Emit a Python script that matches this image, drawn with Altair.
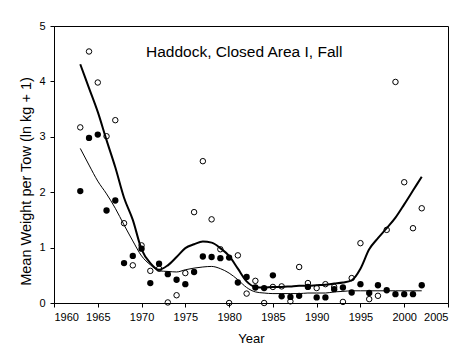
import altair as alt
import pandas as pd

years = list(range(1963, 2003))

open_vals = [3.17, 4.54, 3.98, 3.01, 3.30, 1.44, 0.68, 1.04, 0.58, 0.62,
             0.01, 0.14, 0.54, 1.64, 2.56, 1.51, 0.97, 0.00, 0.86, 0.17,
             0.40, 0.00, 0.29, 0.30, 0.03, 0.65, 0.36, 0.27, 0.34, 0.29,
             0.02, 0.45, 1.08, 0.07, 0.13, 1.32, 3.99, 2.18, 1.35, 1.71]

filled_vals = [2.02, 2.98, 3.04, 1.67, 1.85, 0.72, 0.85, 0.98, 0.36, 0.71,
               0.52, 0.42, 0.34, 0.56, 0.84, 0.83, 0.81, 0.82, 0.37, 0.47,
               0.28, 0.27, 0.50, 0.12, 0.11, 0.13, 0.29, 0.10, 0.10, 0.25,
               0.28, 0.19, 0.34, 0.18, 0.32, 0.23, 0.16, 0.16, 0.16, 0.32]

smooth_open = [4.31, 3.88, 3.45, 2.94, 2.45, 1.90, 1.50, 0.97, 0.72, 0.60,
               0.68, 0.83, 0.99, 1.06, 1.11, 1.09, 0.99, 0.85, 0.62, 0.39,
               0.29, 0.28, 0.29, 0.29, 0.30, 0.31, 0.31, 0.32, 0.33, 0.35,
               0.37, 0.41, 0.62, 0.97, 1.17, 1.35, 1.54, 1.78, 2.03, 2.28]

smooth_filled = [2.79, 2.49, 2.20, 1.97, 1.71, 1.41, 1.12, 0.85, 0.69, 0.58,
                 0.57, 0.56, 0.60, 0.63, 0.65, 0.66, 0.62, 0.54, 0.42, 0.28,
                 0.20, 0.18, 0.17, 0.17, 0.17, 0.17, 0.18, 0.18, 0.18, 0.20,
                 0.21, 0.22, 0.22, 0.22, 0.22, 0.22, 0.22, 0.22, 0.22, 0.22]

x_ticks = [1960, 1965, 1970, 1975, 1980, 1985, 1990, 1995, 2000, 2005]
y_ticks = [0, 1, 2, 3, 4, 5]
title_text = "Haddock, Closed Area I, Fall"

df = pd.DataFrame({
    "year": years,
    "open": open_vals,
    "filled": filled_vals,
    "smooth_open": smooth_open,
    "smooth_filled": smooth_filled,
})

FONT = "Liberation Sans"

xenc = alt.X("year:Q",
             scale=alt.Scale(domain=[1960, 2005], nice=False, zero=False),
             axis=alt.Axis(values=x_ticks, format="d", title="Year",
                           titleY=35, titleBaseline="middle",
                           labelPadding=4, titleFontSize=13))

def yenc(field):
    return alt.Y(f"{field}:Q",
                 scale=alt.Scale(domain=[0, 5], nice=False),
                 axis=alt.Axis(values=y_ticks, title="Mean Weight per Tow (ln kg + 1)",
                               titleX=-28, titleY=155, titleBaseline="middle",
                               titleAlign="center", titleAngle=270,
                               labelPadding=5, titleFontSize=14.5))

base = alt.Chart(df)

thick = base.mark_line(color="black", strokeWidth=2, interpolate="monotone").encode(
    x=xenc, y=yenc("smooth_open"))
thin = base.mark_line(color="black", strokeWidth=1, interpolate="monotone").encode(
    x=xenc, y=yenc("smooth_filled"))
opens = base.mark_point(shape="circle", filled=False, color="black", strokeWidth=1,
                        size=30, opacity=1).encode(x=xenc, y=yenc("open"))
fills = base.mark_circle(color="black", size=40, opacity=1).encode(x=xenc, y=yenc("filled"))

title = alt.Chart(pd.DataFrame({"t": [title_text]})).mark_text(
    font=FONT, fontSize=15.5, align="left", baseline="alphabetic", color="black"
).encode(text="t:N", x=alt.value(92), y=alt.value(31))

chart = alt.layer(thin, thick, opens, fills, title).properties(
    width=394, height=277,
    autosize=alt.AutoSizeParams(type="none"),
    padding={"left": 54, "top": 26, "right": 27, "bottom": 53},
).configure_view(
    stroke="black", strokeWidth=1
).configure_axis(
    grid=False, domainColor="black", tickColor="black", labelColor="black",
    titleColor="black", labelFont=FONT, titleFont=FONT, labelFontSize=11,
    titleFontWeight="normal", tickSize=4, domainWidth=1, tickWidth=1
)

chart.save("out.html", embed_options={"renderer": "svg", "actions": False})
